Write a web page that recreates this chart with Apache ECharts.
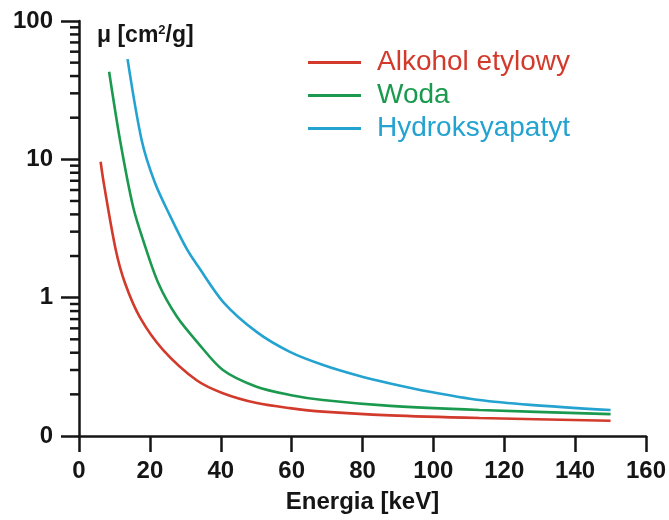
<!DOCTYPE html>
<html>
<head>
<meta charset="utf-8">
<title>Współczynnik osłabienia masowego</title>
<script src="https://cdn.jsdelivr.net/npm/echarts@6/dist/echarts.min.js"></script>
<style>
  html, body { margin: 0; padding: 0; background: #ffffff; }
  #chart { width: 669px; height: 520px; }
</style>
</head>
<body>
<div id="chart"></div>
<script>
// Mass attenuation coefficient μ [cm²/g] versus photon energy [keV]
const seriesNames = ['Alkohol etylowy', 'Woda', 'Hydroksyapatyt'];
const seriesColors = ['#d23a2c', '#1b9a4f', '#24a2d0'];

const ethanolEnergy = [6.1, 7, 10.4, 13, 17.2, 23.7, 33.2, 40.6, 50.2, 59.5, 68.8, 87.8, 113, 150];
const ethanolMu     = [9.6, 6.7, 2.2, 1.27, 0.72, 0.42, 0.253, 0.204, 0.173, 0.159, 0.150, 0.141, 0.135, 0.129];

const waterEnergy = [8.5, 11.6, 15.3, 18.1, 22.4, 27.6, 33.6, 40.6, 50.1, 59.5, 68.8, 87.8, 113, 150];
const waterMu     = [43, 13.7, 4.5, 2.6, 1.27, 0.73, 0.47, 0.30, 0.227, 0.198, 0.182, 0.165, 0.154, 0.144];

const hapEnergy = [13.7, 17.7, 21.4, 25.7, 30.4, 33.7, 40.7, 50.1, 59.5, 68.9, 78.4, 87.8, 99, 113, 127.3, 150];
const hapMu     = [53, 13.7, 6.8, 3.9, 2.25, 1.67, 0.93, 0.566, 0.406, 0.326, 0.275, 0.24, 0.209, 0.182, 0.168, 0.154];

// y axis: decades and their printed labels
const yTickValues = [0.1, 1, 10, 100];
const yTickLabels = ['0', '1', '10', '100'];
// minor ticks at 2..9 of every decade
const yMinorTicks = [0.2, 0.3, 0.4, 0.5, 0.6, 0.7, 0.8, 0.9,
                     2, 3, 4, 5, 6, 7, 8, 9,
                     20, 30, 40, 50, 60, 70, 80, 90];

const FONT = '"Liberation Sans", Arial, Helvetica, sans-serif';
const INK = '#151515';

function pairs(xs, ys) { return xs.map((x, i) => [x, ys[i]]); }

const chart = echarts.init(document.getElementById('chart'), null, { renderer: 'canvas' });

const curves = [pairs(ethanolEnergy, ethanolMu), pairs(waterEnergy, waterMu), pairs(hapEnergy, hapMu)];

const option = {
  animation: false,
  backgroundColor: '#ffffff',
  textStyle: { fontFamily: FONT },
  title: {
    left: 92,
    top: 19,
    text: '{b|μ [cm}{s|2}{b|/g]}',
    textStyle: {
      rich: {
        b: { fontFamily: FONT, fontSize: 23, fontWeight: 'bold', color: INK },
        s: { fontFamily: FONT, fontSize: 13, fontWeight: 'bold', color: INK, padding: [0, 0, 10, 0] }
      }
    }
  },
  legend: {
    orient: 'vertical',
    left: 303,
    top: 41,
    icon: 'rect',
    itemWidth: 53,
    itemHeight: 3,
    itemGap: 0,
    selectedMode: false,
    textStyle: { fontFamily: FONT, fontSize: 28, lineHeight: 33, padding: [0, 0, 0, 11] },
    data: seriesNames.map((n, i) => ({ name: n, textStyle: { color: seriesColors[i] } }))
  },
  grid: {
    left: 79, right: 23, top: 21, bottom: 84,
    containLabel: false,
    outerBoundsMode: 'none'
  },
  xAxis: {
    type: 'value',
    min: 0, max: 160, interval: 20,
    name: 'Energia [keV]',
    nameLocation: 'middle',
    nameGap: 54,
    nameTextStyle: { fontFamily: FONT, fontSize: 24, fontWeight: 'bold', color: INK },
    axisLine: { show: true, lineStyle: { color: INK, width: 2.5 } },
    axisTick: { show: true, inside: false, length: 16, lineStyle: { color: INK, width: 2.5 } },
    axisLabel: { fontFamily: FONT, fontSize: 24, fontWeight: 'bold', color: INK, margin: 23 },
    splitLine: { show: false }
  },
  yAxis: {
    type: 'log',
    logBase: 10,
    min: 0.1, max: 100,
    axisLine: { show: true, lineStyle: { color: INK, width: 2.5 } },
    axisTick: { show: true, inside: false, length: 18, lineStyle: { color: INK, width: 2.5 } },
    minorTick: { show: false },
    axisLabel: {
      fontFamily: FONT, fontSize: 24, fontWeight: 'bold', color: INK, margin: 26,
      formatter: function (v) {
        let best = 0;
        yTickValues.forEach((t, i) => { if (Math.abs(Math.log10(t) - Math.log10(v)) < Math.abs(Math.log10(yTickValues[best]) - Math.log10(v))) best = i; });
        return yTickLabels[best];
      }
    },
    splitLine: { show: false }
  },
  series: curves.map((d, i) => ({
    name: seriesNames[i],
    type: 'line',
    data: d,
    smooth: 0.3,
    showSymbol: false,
    symbol: 'none',
    color: seriesColors[i],
    lineStyle: { color: seriesColors[i], width: 2.6 },
    z: 3
  })).concat([{
    // short minor ticks on the left side of the log axis
    name: 'minorTicks',
    type: 'custom',
    clip: false,
    silent: true,
    data: yMinorTicks.map(v => [0, v]),
    renderItem: function (params, api) {
      const p = api.coord([api.value(0), api.value(1)]);
      return {
        type: 'line',
        shape: { x1: p[0] - 9, y1: p[1], x2: p[0], y2: p[1] },
        style: { stroke: INK, lineWidth: 2.5 }
      };
    },
    z: 4
  }])
};

chart.setOption(option);
</script>
</body>
</html>
